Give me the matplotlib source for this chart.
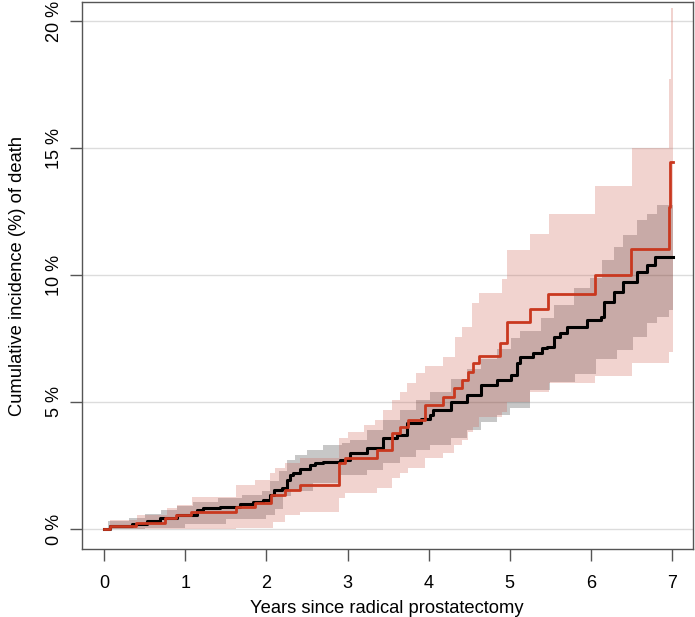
import matplotlib
matplotlib.use("Agg")
import matplotlib.pyplot as plt
import numpy as np

plt.rcParams['font.family'] = ['Liberation Sans', 'DejaVu Sans']

# black curve (all patients) : step times (years) and cumulative incidence (%)
black_t = [0, 0.07, 0.34, 0.53, 0.69, 0.90, 1.14, 1.22, 1.43, 1.68, 1.84, 1.96, 2.04, 2.09,
           2.19, 2.25, 2.29, 2.33, 2.42, 2.54, 2.60, 2.70, 2.91, 3.03, 3.24, 3.44, 3.61, 3.73,
           3.90, 4.02, 4.06, 4.27, 4.47, 4.64, 4.84, 5.01, 5.09, 5.13, 5.29, 5.40, 5.46, 5.54,
           5.62, 5.71, 5.95, 6.12, 6.16, 6.28, 6.40, 6.57, 6.69, 6.79, 7.01]
black_v = [0, 0.13, 0.20, 0.33, 0.43, 0.55, 0.75, 0.84, 0.88, 0.98, 1.05, 1.14, 1.34, 1.54,
           1.60, 1.93, 2.13, 2.19, 2.37, 2.52, 2.59, 2.63, 2.72, 2.98, 3.18, 3.57, 3.70, 4.16,
           4.34, 4.49, 4.69, 5.01, 5.28, 5.67, 5.87, 6.06, 6.52, 6.78, 6.92, 7.11, 7.18, 7.57,
           7.70, 7.96, 8.23, 8.36, 8.95, 9.34, 9.74, 10.13, 10.39, 10.70, 10.70]

# grey band (CI of black curve)
grey_hi_t = [0, 0.05, 0.3, 0.5, 0.7, 0.9, 1.1, 1.4, 1.7, 1.95, 2.05, 2.15, 2.25, 2.35, 2.5,
             2.7, 2.93, 3.03, 3.24, 3.44, 3.65, 3.85, 4.02, 4.27, 4.47, 4.64, 4.84, 5.01,
             5.13, 5.38, 5.54, 5.79, 5.99, 6.14, 6.28, 6.40, 6.57, 6.69, 6.81, 7.01]
grey_hi_v = [0, 0.3, 0.45, 0.6, 0.75, 0.9, 1.05, 1.2, 1.35, 1.5, 1.9, 2.3, 2.7, 2.9, 3.1,
             3.3, 3.4, 3.5, 3.9, 4.29, 4.69, 5.08, 5.4, 5.9, 6.3, 6.7, 7.1, 7.5,
             7.8, 8.3, 8.8, 9.5, 9.9, 10.6, 11.1, 11.57, 12.17, 12.4, 12.76, 12.76]
grey_lo_t = [0, 0.5, 1.0, 1.5, 2.0, 2.1, 2.21, 2.3, 2.58, 2.91, 3.24, 3.44, 3.65, 3.85, 4.02,
             4.27, 4.47, 4.64, 4.84, 5.0, 5.25, 5.5, 5.8, 6.07, 6.32, 6.52, 6.69, 6.81, 6.96, 7.01]
grey_lo_v = [0, 0.05, 0.2, 0.4, 0.55, 0.8, 1.3, 1.5, 1.8, 2.13, 2.32, 2.6, 2.83, 3.11, 3.31,
             3.6, 3.9, 4.2, 4.5, 4.76, 5.47, 5.8, 6.1, 6.7, 7.05, 7.57, 8.1, 8.36, 8.62, 8.62]

# red curve
red_t = [0, 0.07, 0.39, 0.75, 0.89, 1.07, 1.62, 1.86, 2.06, 2.23, 2.42, 2.90, 2.97, 3.36,
         3.55, 3.65, 3.75, 3.96, 4.18, 4.31, 4.41, 4.49, 4.55, 4.62, 4.88, 4.97, 5.25, 5.47,
         6.05, 6.49, 6.96, 6.98, 7.01]
red_v = [0, 0.13, 0.24, 0.43, 0.55, 0.68, 0.87, 1.02, 1.35, 1.54, 1.73, 2.59, 2.78, 3.11,
         3.77, 4.03, 4.29, 4.88, 5.21, 5.54, 5.87, 6.19, 6.52, 6.81, 7.31, 8.16, 8.65, 9.25,
         10.0, 11.02, 12.66, 14.46, 14.46]

# pink band (CI of red curve)
pink_hi_t = [0, 0.07, 0.40, 0.77, 0.90, 1.08, 1.62, 1.86, 2.05, 2.10, 2.23, 2.42, 2.90, 3.00,
             3.20, 3.34, 3.44, 3.55, 3.65, 3.73, 3.85, 3.96, 4.18, 4.33, 4.41, 4.53, 4.62,
             4.90, 4.97, 5.25, 5.48, 6.05, 6.51, 6.96, 6.99, 7.01]
pink_hi_v = [0, 0.35, 0.55, 0.82, 0.94, 1.27, 1.73, 1.93, 2.2, 2.4, 2.6, 2.8, 3.6, 3.83,
             4.1, 4.3, 4.7, 5.08, 5.4, 5.74, 6.13, 6.4, 6.78, 7.57, 7.96, 8.9, 9.28,
             9.83, 10.98, 11.6, 12.4, 13.5, 15.0, 17.7, 20.5, 20.5]
pink_lo_t = [0, 1.62, 2.08, 2.23, 2.42, 2.90, 2.97, 3.36, 3.55, 3.65, 3.75, 3.96, 4.18, 4.31,
             4.41, 4.49, 4.55, 4.62, 4.90, 4.97, 5.25, 5.48, 6.05, 6.51, 6.96, 7.01]
pink_lo_v = [0, 0.04, 0.29, 0.55, 0.68, 1.2, 1.4, 1.6, 2.0, 2.2, 2.4, 2.8, 3.0, 3.3,
             3.5, 3.8, 4.0, 4.42, 4.62, 5.0, 5.4, 5.74, 6.02, 6.52, 6.98, 6.98]

xticks = [0, 1, 2, 3, 4, 5, 6, 7]
yticks = [0, 5, 10, 15, 20]


def step_at(t, v, grid):
    # value of a right-continuous step function at each grid time
    idx = np.searchsorted(t, grid, side='right') - 1
    return np.asarray(v)[np.clip(idx, 0, len(v) - 1)]


def band(ax, t_lo, v_lo, t_hi, v_hi, **kw):
    grid = np.unique(np.concatenate([t_lo, t_hi]))
    lo = step_at(t_lo, v_lo, grid)
    hi = step_at(t_hi, v_hi, grid)
    ax.fill_between(grid, lo, hi, step='post', linewidth=0, **kw)


fig = plt.figure(figsize=(6.95, 6.17), dpi=100)
ax = fig.add_axes([81.5 / 695, 68 / 617, 611.5 / 695, 547 / 617])

for y in yticks:
    ax.axhline(y, color='#dcdcdc', lw=1.0, zorder=0)

band(ax, grey_lo_t, grey_lo_v, grey_hi_t, grey_hi_v, color='black', alpha=0.22, zorder=1)
band(ax, pink_lo_t, pink_lo_v, pink_hi_t, pink_hi_v, color=(205/255, 98/255, 84/255),
     alpha=0.28, zorder=2)

ax.step(black_t, black_v, where='post', color='black', lw=2.2, zorder=3)
ax.step(red_t, red_v, where='post', color='#c9381f', lw=2.0, zorder=4)

ax.set_xlim(-0.28, 7.26)
ax.set_ylim(-0.79, 20.75)
ax.set_xticks(xticks)
ax.set_xticklabels([str(x) for x in xticks])
ax.set_yticks(yticks)
ax.set_yticklabels([f"{y} %" for y in yticks], rotation=90, va='center')

for s in ax.spines.values():
    s.set_color('#555555')
    s.set_linewidth(1.0)
ax.tick_params(axis='both', direction='out', length=8.5, width=1.0, color='#555555',
               labelsize=13)
ax.tick_params(axis='x', pad=10)
ax.tick_params(axis='y', pad=5)

ax.set_xlabel("Years since radical prostatectomy", fontsize=13.2, labelpad=6)
ax.set_ylabel("Cumulative incidence (%) of death", fontsize=13.2, labelpad=14)

fig.savefig("out.png", dpi=100)
